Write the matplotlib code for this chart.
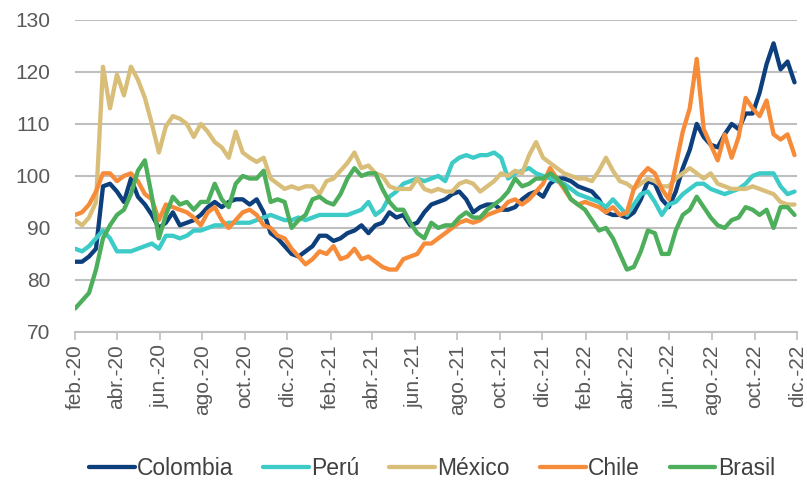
import pandas as pd
import matplotlib.pyplot as plt
import matplotlib.dates as mdates

plt.rcParams['font.family'] = ['Liberation Sans', 'DejaVu Sans']

# fechas: cada 10 dias desde feb-2020
fechas = pd.date_range('2020-02-01', periods=104, freq='10D')

colombia = [83.5, 83.5, 84.5, 86, 98, 98.5, 97, 95, 99.5, 96, 94.5, 92.5, 90, 91, 93, 90.5,
            91, 91.5, 92.5, 94, 95, 94, 95, 95.5, 95.5, 94.5, 95.5, 93, 89, 88, 86.5, 85,
            84.5, 85.5, 86.5, 88.5, 88.5, 87.5, 88, 89, 89.5, 90.5, 89, 90.5, 91, 93, 92, 92.5,
            90.5, 91, 93, 94.5, 95, 95.5, 96.5, 97, 95.5, 93, 94, 94.5, 94.5, 93.5, 93.5, 94,
            95.5, 96.5, 97, 96, 98.5, 99.5, 99.5, 99, 98, 97.5, 97, 95.5, 93, 92.5, 92.5, 92,
            93, 95.5, 99, 98.5, 95.5, 94, 97, 101.5, 105, 110, 107.5, 106, 105.5, 108, 110, 109,
            112, 112, 116, 121.5, 125.5, 120.5, 122, 118]

peru = [86, 85.5, 86.5, 88, 89.5, 88, 85.5, 85.5, 85.5, 86, 86.5, 87, 86, 88.5, 88.5, 88,
        88.5, 89.5, 89.5, 90, 90.5, 90.5, 91, 91, 91, 91, 91.5, 92, 92.5, 92, 91.5, 91.5,
        92, 91.5, 92, 92.5, 92.5, 92.5, 92.5, 92.5, 93, 93.5, 95, 92.5, 93.5, 96, 97, 98.5,
        99, 99.5, 99, 99.5, 100, 99, 102.5, 103.5, 104, 103.5, 104, 104, 104.5, 103.5, 99.5, 100.5,
        101, 101.5, 100.5, 100, 99.5, 99, 98.5, 97.5, 96.5, 96, 95.5, 95, 94, 95.5, 94, 92.5,
        94.5, 96.5, 97, 95, 92.5, 94.5, 95, 96.5, 97.5, 98.5, 98.5, 97.5, 97, 96.5, 97, 97.5,
        98.5, 100, 100.5, 100.5, 100.5, 98, 96.5, 97]

mexico = [91.5, 90.5, 92, 95, 121, 113, 119.5, 115.5, 121, 118.5, 115, 110, 104.5, 109.5, 111.5, 111,
          110, 107.5, 110, 108.5, 106.5, 105.5, 103.5, 108.5, 104.5, 103.5, 102.7, 103.5, 99.5, 98.5, 97.5, 98,
          97.5, 98, 98, 96.5, 99, 99.5, 101, 102.5, 104.5, 101.5, 102, 100.5, 100, 98, 97.5, 97.5,
          97.5, 99.5, 97.5, 97, 97.5, 97, 97, 98.5, 99, 98.5, 97, 98, 99, 100.5, 100, 101,
          100.5, 104, 106.5, 103.5, 102.5, 101.5, 100.5, 100, 99.5, 99.5, 99, 101, 103.5, 101, 99, 98.5,
          97.5, 98.5, 99.5, 99, 98, 98, 99.5, 100.5, 101.5, 100.5, 99.5, 100.5, 98.5, 98, 97.5, 97.5,
          97.5, 98, 97.5, 97, 96.5, 95, 94.5, 94.5]

chile = [92.5, 93, 94.5, 97, 100.5, 100.5, 99, 100, 100.5, 99, 96.5, 95.5, 91.5, 94.5, 94, 93.5,
         93, 92, 90.5, 93, 94, 91.5, 90, 91.5, 93, 93.5, 92.5, 90.5, 90, 88.5, 88, 86,
         84.5, 83, 84, 85.5, 85, 86.5, 84, 84.5, 86, 84, 84.5, 83.5, 82.5, 82, 82, 84,
         84.5, 85, 87, 87, 88, 89, 90, 91, 91.5, 91, 91.5, 92.5, 93, 93.5, 95, 95.5,
         94.5, 95.5, 97, 98.5, 101.5, 99.5, 97.5, 95.5, 94.5, 95, 94.5, 94, 93, 94, 92.5, 93,
         97.5, 100, 101.5, 100.5, 97.5, 95.5, 102, 108.5, 113, 122.5, 109, 106, 103, 108, 103.5, 107.5,
         115, 113, 111.5, 114.5, 108, 107, 108, 104]

brasil = [74.5, 76, 77.5, 82, 88, 90.5, 92.5, 93.5, 96.5, 101, 103, 96, 88, 92.5, 96, 94.5,
          95, 93.5, 95, 95, 98.5, 95.5, 94, 98.5, 100, 99.5, 99.5, 101, 95, 95.5, 95, 90,
          91.5, 92.5, 95.5, 96, 95, 94.5, 96.5, 99.5, 101.5, 100, 100.5, 100.5, 97.5, 95, 93.5, 93.5,
          91, 89, 88, 91, 90, 90.5, 90.5, 92, 93, 92, 92, 93.5, 94.5, 95.5, 97, 99.5,
          98, 98.5, 99.5, 99.5, 100.5, 99.5, 98, 95.5, 94.5, 93.5, 91.5, 89.5, 90, 88, 85, 82,
          82.5, 85.5, 89.5, 89, 85, 85, 89.5, 92.5, 93.5, 96, 94, 92, 90.5, 90, 91.5, 92,
          94, 93.5, 92.5, 93.5, 90, 94, 94, 92.5]

series = {'Colombia': colombia, 'Perú': peru, 'México': mexico, 'Chile': chile, 'Brasil': brasil}
colores = {'Colombia': '#0D3F7C', 'Perú': '#3DCBC8', 'México': '#D9BE79',
           'Chile': '#F68B3A', 'Brasil': '#4DAE5C'}

etiquetas_x = ['feb.-20', 'abr.-20', 'jun.-20', 'ago.-20', 'oct.-20', 'dic.-20',
               'feb.-21', 'abr.-21', 'jun.-21', 'ago.-21', 'oct.-21', 'dic.-21',
               'feb.-22', 'abr.-22', 'jun.-22', 'ago.-22', 'oct.-22', 'dic.-22']
fechas_ticks = pd.date_range('2020-02-01', '2022-12-01', freq='2MS')

fig = plt.figure(figsize=(8.07, 4.86), dpi=100)
ax = fig.add_axes([0.093, 0.317, 0.895, 0.642])

for nombre, valores in series.items():
    ax.plot(fechas, valores, color=colores[nombre], lw=3.1, label=nombre,
            solid_joinstyle='round', solid_capstyle='round')

ax.set_ylim(70, 130)
ax.set_yticks(range(70, 131, 10))
ax.set_xlim(pd.Timestamp('2020-02-01'), pd.Timestamp('2022-12-01'))
ax.set_xticks(fechas_ticks)
ax.set_xticklabels(etiquetas_x, rotation=90)

ax.grid(axis='y', color='#BFBFBF', lw=1.5)
ax.set_axisbelow(True)
for s in ['top', 'right', 'left']:
    ax.spines[s].set_visible(False)
ax.spines['bottom'].set_color('#BFBFBF')
ax.spines['bottom'].set_linewidth(1.5)

ax.tick_params(axis='y', length=0, pad=18, labelsize=15, labelcolor='#595959')
ax.tick_params(axis='x', length=6, width=1.2, color='#BFBFBF', pad=3,
               labelsize=15, labelcolor='#595959')

fig.legend(loc='center', bbox_to_anchor=(0.535, 0.035), ncol=5, frameon=False,
           fontsize=16.5, handlelength=2.0, handletextpad=0.1, columnspacing=1.3,
           labelcolor='#404040')

fig.savefig('out.png', dpi=100)
